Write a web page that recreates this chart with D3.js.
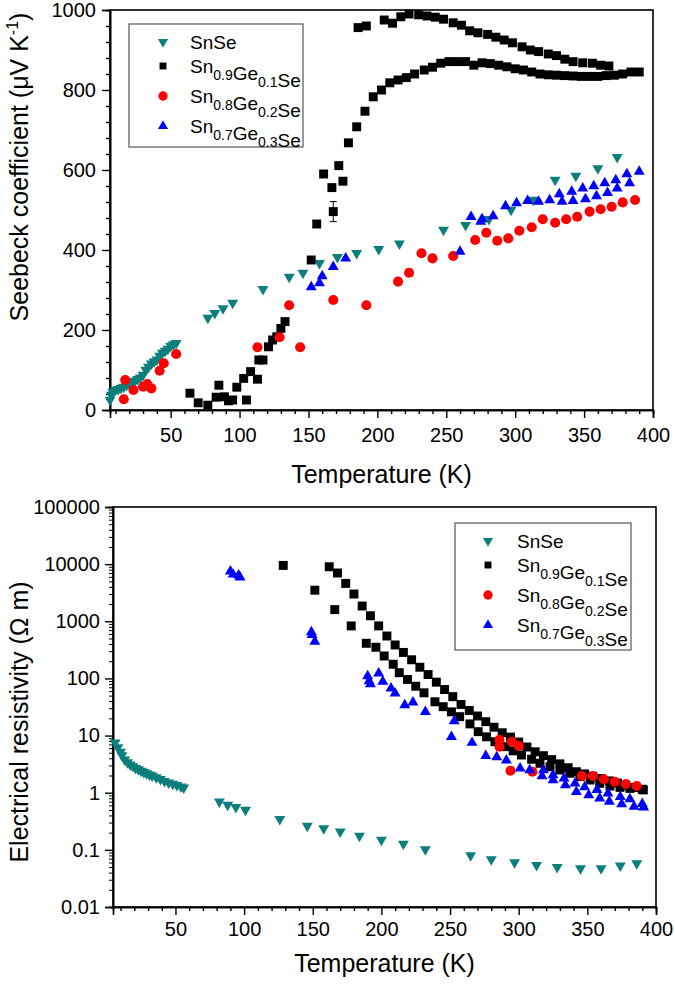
<!DOCTYPE html>
<html><head><meta charset="utf-8">
<script src="https://cdn.jsdelivr.net/npm/d3@7/dist/d3.min.js"></script>
<style>
body{margin:0;background:#fff}
svg{display:block}
text{font-family:"Liberation Sans",Arial,Helvetica,sans-serif;fill:#000}
</style>
</head><body>
<svg id="chart" width="675" height="987"></svg>
<script>
// ---------------- DATA ----------------
const legendLabels = [
  {parts:[["Sn"]], tail:"Se", plain:"SnSe"},
  {parts:[["Sn","0.9"],["Ge","0.1"]], tail:"Se"},
  {parts:[["Sn","0.8"],["Ge","0.2"]], tail:"Se"},
  {parts:[["Sn","0.7"],["Ge","0.3"]], tail:"Se"}
];
const xTicks = [50,100,150,200,250,300,350,400];
const xMinorTicks = [10,20,30,40,60,70,80,90,110,120,130,140,160,170,180,190,210,220,230,240,260,270,280,290,310,320,330,340,360,370,380,390];
const seebeckTicks = [0,200,400,600,800,1000];
const seebeckMinorTicks = [40,80,120,160,240,280,320,360,440,480,520,560,640,680,720,760,840,880,920,960];
const resistivityTicks = [0.01,0.1,1,10,100,1000,10000,100000];
const resistivityTickLabels = ["0.01","0.1","1","10","100","1000","10000","100000"];

// Seebeck coefficient (µV/K) vs T (K)
const seebeckSnSe = [[6,25],[7,38],[8,45],[10,50],[12,52],[14,55],[16,58],[18,62],[20,66],[22,70],[24,73],[26,77],[28,81],[30,88],[32,100],[34,108],[36,116],[38,121],[40,126],[42,135],[44,143],[46,148],[48,153],[50,160],[52,164],[54,167],
  [77,230],[82,242],[88,254],[95,268],[117,302],[136,333],[146,343],[158,367],[171,382],[185,392],[201,402],[216,416],[248,450],[264,462],[281,477],[297,500],[313,525],[329,575],[344,585],[360,604],[374,632]];
const seebeckGe01 = [[64,42],[70,18],[77,12],[83,32],[85,62],[89,33],[92,23],[95,25],[98,57],[103,79],[105,25],[108,96],[113,77],[114,125],[117,125],[121,158],[124,175],[127,183],[130,204],[133,221],
  [152,375],[156,465],[161,590],[168,496],[167,556],[172,611],[175,572],[179,668],[185,708],[191,747],[197,783],[203,800],[209,818],[215,825],[221,831],[227,840],[234,850],[240,857],[246,867],[252,871],[258,871],[264,871],[270,862],[276,868],[282,866],[288,862],[294,858],[300,853],[306,850],[312,845],[318,840],[324,838],[330,837],[336,836],[342,835],[348,834],[354,834],[360,834],[366,836],[372,837],[378,840],[384,845],[390,845],
  [186,956],[192,960],[205,975],[211,967],[217,983],[223,990],[230,988],[236,985],[242,982],[248,977],[255,968],[261,962],[267,948],[273,943],[280,939],[286,932],[292,925],[298,918],[305,908],[311,900],[317,896],[324,890],[330,886],[336,877],[342,871],[349,868],[356,867],[362,862],[368,860]];
const seebeckGe01Error = [[168,496,25]];
const seebeckGe02 = [[16,27],[17,75],[23,50],[30,58],[33,65],[36,54],[42,98],[45,117],[54,140],[113,157],[129,182],[136,262],[144,157],[168,275],[192,262],[215,321],[223,343],[232,392],[240,379],[255,385],[271,425],[279,443],[287,423],[295,429],[303,448],[312,457],[320,477],[329,468],[337,477],[345,483],[354,496],[362,502],[370,508],[378,519],[387,525]];
const seebeckGe03 = [[152,307],[158,317],[160,335],[168,358],[177,379],[260,396],[268,483],[275,471],[276,477],[284,485],[293,510],[301,517],[309,523],[317,521],[325,525],[332,540],[334,521],[341,546],[342,523],[349,554],[351,527],[357,560],[359,535],[365,567],[367,543],[373,575],[374,554],[381,590],[383,567],[390,596]];

// Electrical resistivity (Ohm m) vs T (K)
const rhoSnSe = [[6,7.5],[8,6.2],[10,5.2],[11,4.5],[13,3.8],[15,3.4],[17,3.1],[19,2.9],[21,2.7],[23,2.55],[25,2.4],[27,2.28],[29,2.17],[31,2.07],[33,1.98],[36,1.85],[39,1.72],[42,1.6],[45,1.5],[48,1.42],[51,1.35],[54,1.28],[56,1.22],
  [82,0.70],[88,0.61],[94,0.556],[101,0.50],[126,0.343],[146,0.262],[158,0.238],[170,0.208],[184,0.175],[200,0.149],[216,0.127],[232,0.102],[265,0.080],[280,0.068],[297,0.060],[313,0.054],[328,0.0496],[345,0.0475],[360,0.0475],[374,0.053],[386,0.058]];
const rhoGe01 = [[128.5,9500],[162,9000],[168,7000],[174,4600],[180,3000],[186,1850],[192,1250],[198,830],[204,553],[210,385],[216,285],[222,212],[228,157],[234,117],[240,86],[246,64],[252,48],[258,35],[264,27.5],[270,22],[276,17.5],[282,14],[288,11.2],[294,9.4],[300,7.7],[306,6.3],[312,5.2],[318,4.45],[324,3.8],[330,3.2],[336,2.74],[342,2.33],[348,2.13],[354,1.94],[360,1.77],[366,1.61],[372,1.48],[378,1.35],[384,1.23],[390,1.15],
  [151.5,3500],[166,1600],[178,830],[189,412],[196,351],[202,247],[208.6,177],[213,126],[219,96],[225,73],[231,56],[239,39],[245,32],[251,26],[257,21.4],[264.5,16],[270.5,11.7],[276.6,9.5],[282.7,7.8],[290,6.4],[296,5.4],[302,4.57],[309.4,3.85],[315.5,3.27],[322.8,2.85],[330,2.5],[337.3,2.19],[344.6,1.91],[352,1.67],[359,1.46],[366.5,1.31],[373.8,1.24],[381,1.19],[390.8,1.12]];
const rhoGe02 = [[286,8.4],[286,6.4],[295,7.8],[300,6.6],[294,2.43],[310,2.33],[346,1.96],[354,1.96],[362,1.72],[370,1.56],[378,1.42],[386,1.31]];
const rhoGe03 = [[90,7500],[92,6600],[96,6400],[97,5900],[149,650],[149.5,580],[151.5,440],[190,110],[191,90],[192,80],[198,123],[201,88],[207,67],[210,55],[217,34],[223,38],[232,26],[253,18],[251,9.5],[266,7.5],[276,4.4],[284,4.2],[291,3.7],[301,2.67],[308,2.5],[318,2.5],[317,1.96],[325,2.04],[325,1.67],[333,1.79],[334,1.36],[341,1.46],[342,1.04],[348,1.25],[351,0.91],[357,1.12],[359,0.80],[365,0.98],[366,0.70],[374,0.85],[375,0.635],[381,0.77],[384,0.57],[390,0.64],[391,0.556]];

// ---------------- STYLE ----------------
const COLORS = ["#0c7f7c","#000000","#ff0000","#0000ff"];
const SHAPES = ["down","square","circle","up"];
const FONT_TICK = 20, FONT_TITLE = 25, FONT_LEG = 19, FONT_SUB = 14;

const svg = d3.select("#chart");

function symbolPath(shape, scale){
  const s = scale || 1;
  if (shape === "square") return d3.symbol(d3.symbolSquare, 80*s)();
  if (shape === "circle") return d3.symbol(d3.symbolCircle, 80*s)();
  return d3.symbol(d3.symbolTriangle, 52*s)();
}
function drawPoints(g, data, x, y, i){
  g.append("g").selectAll("path").data(data).join("path")
    .attr("d", symbolPath(SHAPES[i]))
    .attr("transform", d => `translate(${x(d[0])},${y(d[1])})` + (SHAPES[i]==="down" ? " rotate(180)" : ""))
    .attr("fill", COLORS[i]);
}
function styleAxis(g, fs){
  g.selectAll("text").attr("font-size", fs).attr("font-family", null);
  g.selectAll("line").attr("stroke","#000").attr("stroke-width",1.4);
  g.select(".domain").attr("stroke","#000").attr("stroke-width",1.6);
}
function legend(x0, y0, w, h, rowYs, textX, markX){
  const g = svg.append("g");
  g.append("rect").attr("x",x0).attr("y",y0).attr("width",w).attr("height",h)
    .attr("fill","#fff").attr("stroke","#555").attr("stroke-width",1.2);
  legendLabels.forEach((lab, i) => {
    const cy = y0 + rowYs[i];
    g.append("path").attr("d", symbolPath(SHAPES[i], SHAPES[i]==="square"?0.6:0.85))
      .attr("transform", `translate(${markX},${cy})` + (SHAPES[i]==="down"?" rotate(180)":""))
      .attr("fill", COLORS[i]);
    const t = g.append("text").attr("x", textX).attr("y", cy + 7).attr("font-size", FONT_LEG);
    if (lab.plain) { t.text(lab.plain); return; }
    lab.parts.forEach(p => {
      t.append("tspan").text(p[0]);
      t.append("tspan").attr("font-size", FONT_SUB).attr("dy", 7).text(p[1]);
      t.append("tspan").attr("dy", -7).text("");
    });
    t.append("tspan").text(lab.tail);
  });
}

// ---------------- TOP PANEL ----------------
{
  const L=110, R=653, T=10, B=410;
  const x = d3.scaleLinear().domain([6,400]).range([L,R]);
  const y = d3.scaleLinear().domain([0,1000]).range([B,T]);
  const g = svg.append("g");
  g.append("rect").attr("x",L).attr("y",T).attr("width",R-L).attr("height",B-T)
    .attr("fill","none").attr("stroke","#000").attr("stroke-width",1.6);
  const ax = g.append("g").attr("transform",`translate(0,${B})`)
    .call(d3.axisBottom(x).tickValues(xTicks).tickSize(8).tickPadding(10).tickFormat(d3.format("d")));
  styleAxis(ax, FONT_TICK);
  const axm = g.append("g").attr("transform",`translate(0,${B})`)
    .call(d3.axisBottom(x).tickValues(xMinorTicks).tickSize(4).tickFormat(""));
  styleAxis(axm, FONT_TICK);
  const ay = g.append("g").attr("transform",`translate(${L},0)`)
    .call(d3.axisLeft(y).tickValues(seebeckTicks).tickSize(8).tickPadding(6).tickFormat(d3.format("d")));
  styleAxis(ay, FONT_TICK);
  const aym = g.append("g").attr("transform",`translate(${L},0)`)
    .call(d3.axisLeft(y).tickValues(seebeckMinorTicks).tickSize(4).tickFormat(""));
  styleAxis(aym, FONT_TICK);

  const pts = g.append("g");
  drawPoints(pts, seebeckSnSe, x, y, 0);
  drawPoints(pts, seebeckGe01, x, y, 1);
  const eb = pts.append("g").attr("stroke","#000").attr("stroke-width",1);
  seebeckGe01Error.forEach(d => {
    eb.append("line").attr("x1",x(d[0])).attr("x2",x(d[0])).attr("y1",y(d[1]-d[2])).attr("y2",y(d[1]+d[2]));
    eb.append("line").attr("x1",x(d[0])-3.5).attr("x2",x(d[0])+3.5).attr("y1",y(d[1]-d[2])).attr("y2",y(d[1]-d[2]));
    eb.append("line").attr("x1",x(d[0])-3.5).attr("x2",x(d[0])+3.5).attr("y1",y(d[1]+d[2])).attr("y2",y(d[1]+d[2]));
  });
  drawPoints(pts, seebeckGe02, x, y, 2);
  drawPoints(pts, seebeckGe03, x, y, 3);

  svg.append("text").attr("x",(L+R)/2).attr("y",483).attr("text-anchor","middle")
    .attr("font-size",FONT_TITLE).text("Temperature (K)");
  const yt = svg.append("text").attr("transform","translate(28,167) rotate(-90)")
    .attr("text-anchor","middle").attr("font-size",FONT_TITLE);
  yt.append("tspan").text("Seebeck coefficient (\u03BCV K");
  yt.append("tspan").attr("font-size",16).attr("dy",-10).text("-1");
  yt.append("tspan").attr("dy",10).text(")");

  legend(129, 24, 174, 123, [18,42,72,102], 190, 163);
}

// ---------------- BOTTOM PANEL ----------------
{
  const L=113, R=656, T=507, B=907;
  const x = d3.scaleLinear().domain([4.5,400]).range([L,R]);
  const y = d3.scaleLog().domain([0.01,100000]).range([B,T]);
  const g = svg.append("g");
  g.append("rect").attr("x",L).attr("y",T).attr("width",R-L).attr("height",B-T)
    .attr("fill","none").attr("stroke","#000").attr("stroke-width",1.6);
  const ax = g.append("g").attr("transform",`translate(0,${B})`)
    .call(d3.axisBottom(x).tickValues(xTicks).tickSize(8).tickPadding(7).tickFormat(d3.format("d")));
  styleAxis(ax, FONT_TICK);
  const axm = g.append("g").attr("transform",`translate(0,${B})`)
    .call(d3.axisBottom(x).tickValues(xMinorTicks).tickSize(4).tickFormat(""));
  styleAxis(axm, FONT_TICK);
  const ay = g.append("g").attr("transform",`translate(${L},0)`)
    .call(d3.axisLeft(y).tickValues(resistivityTicks).tickSize(8).tickPadding(5)
      .tickFormat((d,i) => resistivityTickLabels[i]));
  styleAxis(ay, FONT_TICK);
  const minor = [];
  resistivityTicks.slice(0,-1).forEach(base => { for (let m=2;m<10;m++) minor.push(base*m); });
  const aym = g.append("g").attr("transform",`translate(${L},0)`)
    .call(d3.axisLeft(y).tickValues(minor).tickSize(4).tickFormat(""));
  styleAxis(aym, FONT_TICK);
  aym.selectAll("line").attr("stroke-width",1);

  const pts = g.append("g");
  drawPoints(pts, rhoSnSe, x, y, 0);
  drawPoints(pts, rhoGe01, x, y, 1);
  drawPoints(pts, rhoGe02, x, y, 2);
  drawPoints(pts, rhoGe03, x, y, 3);

  svg.append("text").attr("x",(L+R)/2).attr("y",972).attr("text-anchor","middle")
    .attr("font-size",FONT_TITLE).text("Temperature (K)");
  svg.append("text").attr("transform","translate(28,722) rotate(-90)")
    .attr("text-anchor","middle").attr("font-size",FONT_TITLE)
    .text("Electrical resistivity (\u03A9 m)");

  legend(455, 523, 176, 127, [18,42,72,102], 517, 488);
}
</script>
</body></html>
